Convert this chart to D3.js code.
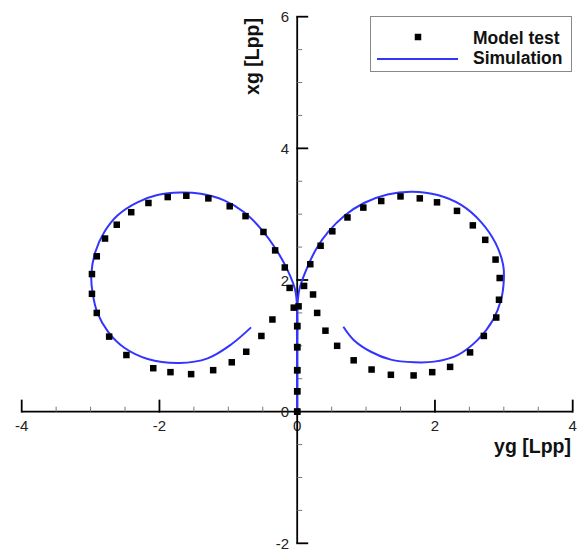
<!DOCTYPE html>
<html>
<head>
<meta charset="utf-8">
<script src="https://cdn.jsdelivr.net/npm/d3@7"></script>
<style>
  html, body { margin: 0; padding: 0; background: #fff; }
  svg { display: block; }
  text { font-family: "Liberation Sans", Arial, Helvetica, sans-serif; }
</style>
</head>
<body>
<svg id="chart" width="581" height="554"></svg>
<script>
// Turning-circle trajectories: [yg, xg] in ship lengths (Lpp)
const testPort = [
  [0,0],[0,0.31],[0,0.63],[0,0.98],[0,1.30],[-0.05,1.58],[-0.11,1.88],[-0.18,2.19],
  [-0.32,2.45],[-0.49,2.73],[-0.75,2.97],[-0.98,3.12],[-1.29,3.24],[-1.61,3.28],
  [-1.88,3.26],[-2.16,3.17],[-2.41,3.03],[-2.62,2.84],[-2.79,2.63],[-2.91,2.36],
  [-2.98,2.09],[-2.98,1.79],[-2.91,1.50],[-2.73,1.14],[-2.48,0.86],[-2.09,0.66],
  [-1.84,0.60],[-1.54,0.57],[-1.22,0.63],[-0.95,0.75],[-0.74,0.91],[-0.52,1.15],
  [-0.36,1.40]
];
const testStbd = [
  [0,0],[0,0.31],[0,0.63],[0,0.98],[0,1.30],[0.02,1.60],[0.10,1.91],[0.19,2.24],
  [0.34,2.52],[0.51,2.74],[0.73,2.95],[0.96,3.10],[1.22,3.20],[1.50,3.27],
  [1.78,3.24],[2.03,3.18],[2.32,3.05],[2.55,2.83],[2.73,2.61],[2.88,2.31],
  [2.94,2.03],[2.93,1.70],[2.89,1.43],[2.71,1.15],[2.51,0.90],[2.22,0.68],
  [1.96,0.60],[1.69,0.55],[1.36,0.56],[1.08,0.64],[0.82,0.78],[0.58,1.00],
  [0.41,1.23],[0.29,1.50],[0.23,1.78]
];
const simPort = [
  [0,0],[0,0.8],[0,1.55],[-0.03,1.85],[-0.14,2.15],[-0.31,2.47],[-0.52,2.77],
  [-0.77,3.03],[-1.06,3.21],[-1.40,3.31],[-1.70,3.33],[-2.03,3.29],[-2.32,3.18],
  [-2.61,2.98],[-2.80,2.73],[-2.93,2.43],[-2.99,2.08],[-2.97,1.80],[-2.90,1.50],
  [-2.75,1.22],[-2.51,0.97],[-2.17,0.80],[-1.71,0.74],[-1.30,0.81],[-0.96,1.02],
  [-0.67,1.28]
];
const simStbd = [
  [0,0],[0,0.8],[0,1.55],[0.03,1.85],[0.13,2.15],[0.28,2.48],[0.45,2.73],
  [0.69,2.98],[0.97,3.17],[1.31,3.30],[1.67,3.34],[2.04,3.29],[2.38,3.14],
  [2.67,2.88],[2.88,2.56],[2.99,2.23],[3.00,2.00],[2.96,1.70],[2.84,1.39],
  [2.62,1.09],[2.33,0.86],[1.99,0.76],[1.70,0.75],[1.36,0.79],[1.07,0.91],
  [0.82,1.09],[0.67,1.29]
];
const xTicks = [-4, -2, 0, 2, 4];
const yTicks = [-2, 0, 2, 4, 6];
const legendLabels = ["Model test", "Simulation"];
const axisTitles = ["yg [Lpp]", "xg [Lpp]"];

const svg = d3.select("#chart");
const x = d3.scaleLinear().domain([-4, 4]).range([21.7, 572.7]);
const y = d3.scaleLinear().domain([-2, 6]).range([543.3, 16.7]);
const x0 = x(0), y0 = y(0);
const blue = "#3434ff";

// Horizontal axis through xg = 0, ticks pointing up
const gx = svg.append("g");
gx.append("line").attr("x1", x(-4)).attr("x2", x(4)).attr("y1", y0).attr("y2", y0)
  .attr("stroke", "#000").attr("stroke-width", 1.8);
gx.selectAll(".minor").data(d3.range(-4, 4.01, 0.5).filter(v => v % 2 !== 0))
  .join("line").attr("x1", d => x(d)).attr("x2", d => x(d))
  .attr("y1", y0).attr("y2", y0 - 5).attr("stroke", "#777").attr("stroke-width", 1);
gx.selectAll(".major").data(xTicks.filter(v => v !== 0))
  .join("line").attr("x1", d => x(d)).attr("x2", d => x(d))
  .attr("y1", y0 + 0.9).attr("y2", y0 - 12).attr("stroke", "#000").attr("stroke-width", 1.8);
gx.selectAll("text").data(xTicks).join("text")
  .attr("x", d => x(d)).attr("y", y0 + 19.5).attr("text-anchor", "middle")
  .attr("font-size", 15).attr("fill", "#222").text(d => d);

// Vertical axis through yg = 0, ticks pointing right
const gy = svg.append("g");
gy.append("line").attr("x1", x0).attr("x2", x0).attr("y1", y(6)).attr("y2", y(-2))
  .attr("stroke", "#000").attr("stroke-width", 1.8);
gy.selectAll(".minor").data(d3.range(-2, 6.01, 0.5).filter(v => v % 2 !== 0))
  .join("line").attr("x1", x0).attr("x2", x0 + 5)
  .attr("y1", d => y(d)).attr("y2", d => y(d)).attr("stroke", "#777").attr("stroke-width", 1);
gy.selectAll(".major").data(yTicks.filter(v => v !== 0))
  .join("line").attr("x1", x0 - 0.9).attr("x2", x0 + 11)
  .attr("y1", d => y(d)).attr("y2", d => y(d)).attr("stroke", "#000").attr("stroke-width", 1.8);
gy.selectAll("text").data(yTicks).join("text")
  .attr("x", x0 - 8).attr("y", d => y(d) + 5.5).attr("text-anchor", "end")
  .attr("font-size", 15).attr("fill", "#222").text(d => d);

// Axis titles
svg.append("text").attr("x", 571).attr("y", 453).attr("text-anchor", "end")
  .attr("font-size", 19.5).attr("font-weight", "bold").attr("fill", "#111").text(axisTitles[0]);
svg.append("text").attr("transform", "translate(259,18) rotate(-90)")
  .attr("text-anchor", "end").attr("font-size", 19.5).attr("font-weight", "bold")
  .attr("fill", "#111").text(axisTitles[1]);

// Simulation curves
const line = d3.line().x(d => x(d[0])).y(d => y(d[1])).curve(d3.curveCatmullRom.alpha(0.5));
[simPort, simStbd].forEach(s => {
  svg.append("path").attr("d", line(s)).attr("fill", "none")
    .attr("stroke", blue).attr("stroke-width", 2);
});

// Model test markers
const ms = 6.5;
[testPort, testStbd].forEach(s => {
  svg.append("g").selectAll("rect").data(s).join("rect")
    .attr("x", d => x(d[0]) - ms / 2).attr("y", d => y(d[1]) - ms / 2)
    .attr("width", ms).attr("height", ms).attr("fill", "#000");
});

// Legend
const lg = svg.append("g");
lg.append("rect").attr("x", 370.5).attr("y", 16.5).attr("width", 201).attr("height", 55)
  .attr("fill", "#fff").attr("stroke", "#888").attr("stroke-width", 1);
lg.append("rect").attr("x", 418 - ms / 2).attr("y", 37 - ms / 2)
  .attr("width", ms).attr("height", ms).attr("fill", "#000");
lg.append("line").attr("x1", 377).attr("x2", 458).attr("y1", 59).attr("y2", 59)
  .attr("stroke", blue).attr("stroke-width", 2);
lg.selectAll("text").data(legendLabels).join("text")
  .attr("x", 473).attr("y", (d, i) => 43.5 + i * 20.5)
  .attr("font-size", 17.5).attr("font-weight", "bold").attr("fill", "#111").text(d => d);
</script>
</body>
</html>
